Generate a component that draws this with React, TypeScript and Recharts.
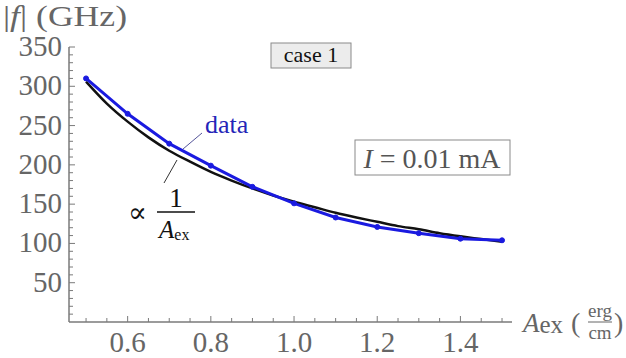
import { LineChart, Line, XAxis, YAxis } from 'recharts'

// Simulated resonance frequency vs exchange stiffness
const aexValues = [0.5, 0.6, 0.7, 0.8, 0.9, 1.0, 1.1, 1.2, 1.3, 1.4, 1.5]
const freqValues = [310, 265, 227, 199, 172, 151, 133, 121, 113, 106, 104]

// 1/A_ex fit curve
const fitAex = [
  0.5, 0.55, 0.6, 0.65, 0.7, 0.75, 0.8, 0.85, 0.9, 0.95, 1.0,
  1.05, 1.1, 1.15, 1.2, 1.25, 1.3, 1.35, 1.4, 1.45, 1.5,
]
const fitFreq = [
  306, 278, 255, 235, 218, 204, 191, 180, 170, 161, 153,
  146, 139, 133, 127.5, 122, 118, 113, 109, 105.5, 102,
]

const xTicks = [
  0.5, 0.55, 0.6, 0.65, 0.7, 0.75, 0.8, 0.85, 0.9, 0.95, 1.0,
  1.05, 1.1, 1.15, 1.2, 1.25, 1.3, 1.35, 1.4, 1.45, 1.5,
]
const xLabels = [0.6, 0.8, 1.0, 1.2, 1.4]
const yTicks = [
  10, 20, 30, 40, 50, 60, 70, 80, 90, 100, 110, 120, 130, 140, 150, 160, 170,
  180, 190, 200, 210, 220, 230, 240, 250, 260, 270, 280, 290, 300, 310, 320,
  330, 340, 350,
]
const yLabels = [50, 100, 150, 200, 250, 300, 350]

const dataSeries = aexValues.map((x, i) => ({ x, f: freqValues[i] }))
const fitSeries = fitAex.map((x, i) => ({ x, f: fitFreq[i] }))

const AXIS = '#7a7a7a'
const LABEL = '#666'
const BLUE = '#1a1ae0'
const SERIF = '"Liberation Serif", "DejaVu Serif", serif'

const isLabel = (list: number[], v: number) => list.some((l) => Math.abs(l - v) < 1e-6)

const XTick = ({ x, y, payload }: any) => {
  const major = isLabel(xLabels, payload.value)
  return (
    <g>
      <line x1={x} y1={y} x2={x} y2={y - (major ? 6 : 4)} stroke={AXIS} strokeWidth={1} />
      {major && (
        <text
          x={x}
          y={y + 30}
          textAnchor="middle"
          fontFamily="Liberation Serif"
          style={{ fontFamily: SERIF, fontSize: 29 }}
          fill={LABEL}
        >
          {payload.value.toFixed(1)}
        </text>
      )}
    </g>
  )
}

const YTick = ({ x, y, payload }: any) => {
  const major = isLabel(yLabels, payload.value)
  return (
    <g>
      <line x1={x} y1={y} x2={x + (major ? 6 : 4)} y2={y} stroke={AXIS} strokeWidth={1} />
      {major && (
        <text
          x={x - 7}
          y={y + 9}
          textAnchor="end"
          fontFamily="Liberation Serif"
          style={{ fontFamily: SERIF, fontSize: 29 }}
          fill={LABEL}
        >
          {payload.value}
        </text>
      )}
    </g>
  )
}

// Labels, boxes and pointer lines on top of the plot
const Annotations = () => (
  <svg
    width={626}
    height={358}
    style={{ position: 'absolute', left: 0, top: 0, pointerEvents: 'none', fontFamily: SERIF }}
  >
    <text x={3} y={26} fontSize={30} fill={LABEL} textLength={124} lengthAdjust="spacingAndGlyphs">
      <tspan>|</tspan>
      <tspan fontStyle="italic">f</tspan>
      <tspan>| (GHz)</tspan>
    </text>

    <rect x={271} y={43} width={80} height={25} fill="#ececec" stroke="#8a8a8a" strokeWidth={1} />
    <text x={311} y={62} textAnchor="middle" fontSize={22} fill="#111">
      case 1
    </text>

    <rect x={355} y={140} width={155} height={35} fill="#fff" stroke="#8a8a8a" strokeWidth={1} />
    <text x={432} y={168} textAnchor="middle" fontSize={28} fill="#555">
      <tspan fontStyle="italic">I</tspan>
      <tspan> = 0.01 mA</tspan>
    </text>

    <line x1={183} y1={149} x2={202} y2={133} stroke="#55559a" strokeWidth={1} />
    <text x={205} y={133} fontSize={26} fill="#2525b8">
      data
    </text>

    <line x1={164} y1={183} x2={177} y2={160} stroke="#333" strokeWidth={1} />
    <text x={128} y={222} fontSize={28} fill="#111">
      ∝
    </text>
    <text x={176} y={207} textAnchor="middle" fontSize={27} fill="#111">
      1
    </text>
    <line x1={157} y1={212} x2={195} y2={212} stroke="#111" strokeWidth={1.5} />
    <text x={159} y={238} fontSize={25} fill="#111">
      <tspan fontStyle="italic">A</tspan>
      <tspan fontSize={16} dy={2}>ex</tspan>
    </text>

    <text x={523} y={332} fontSize={27} fill={LABEL}>
      <tspan fontStyle="italic">A</tspan>
      <tspan fontSize={25} dy={1}>ex</tspan>
      <tspan fontSize={28} dy={-1} dx={8}>(</tspan>
    </text>
    <text x={600} y={317} textAnchor="middle" fontSize={19} fill={LABEL}>
      erg
    </text>
    <line x1={588} y1={322} x2={612} y2={322} stroke={LABEL} strokeWidth={1} />
    <text x={600} y={339} textAnchor="middle" fontSize={19} fill={LABEL}>
      cm
    </text>
    <text x={614} y={332} fontSize={28} fill={LABEL}>
      )
    </text>
  </svg>
)

export default function App() {
  return (
    <div style={{ position: 'absolute', left: 0, top: 0, width: 626, height: 358, background: '#fff' }}>
      <LineChart width={626} height={358} margin={{ top: 47, right: 114, bottom: 35, left: 68 }}>
        <XAxis
          type="number"
          dataKey="x"
          domain={[0.459, 1.524]}
          ticks={xTicks}
          interval={0}
          height={1}
          tickSize={0}
          tickMargin={0}
          tickLine={false}
          axisLine={{ stroke: AXIS, strokeWidth: 1.5 }}
          tick={<XTick />}
          allowDataOverflow
        />
        <YAxis
          type="number"
          dataKey="f"
          domain={[0, 350]}
          ticks={yTicks}
          interval={0}
          width={1}
          tickSize={0}
          tickMargin={0}
          tickLine={false}
          axisLine={{ stroke: AXIS, strokeWidth: 1.5 }}
          tick={<YTick />}
          allowDataOverflow
        />
        <Line
          data={fitSeries}
          dataKey="f"
          type="monotone"
          stroke="#111"
          strokeWidth={2.5}
          dot={false}
          isAnimationActive={false}
        />
        <Line
          data={dataSeries}
          dataKey="f"
          type="linear"
          stroke={BLUE}
          strokeWidth={3}
          dot={{ r: 2.5, fill: BLUE, stroke: BLUE, strokeWidth: 1 }}
          isAnimationActive={false}
        />
      </LineChart>
      <Annotations />
    </div>
  )
}
